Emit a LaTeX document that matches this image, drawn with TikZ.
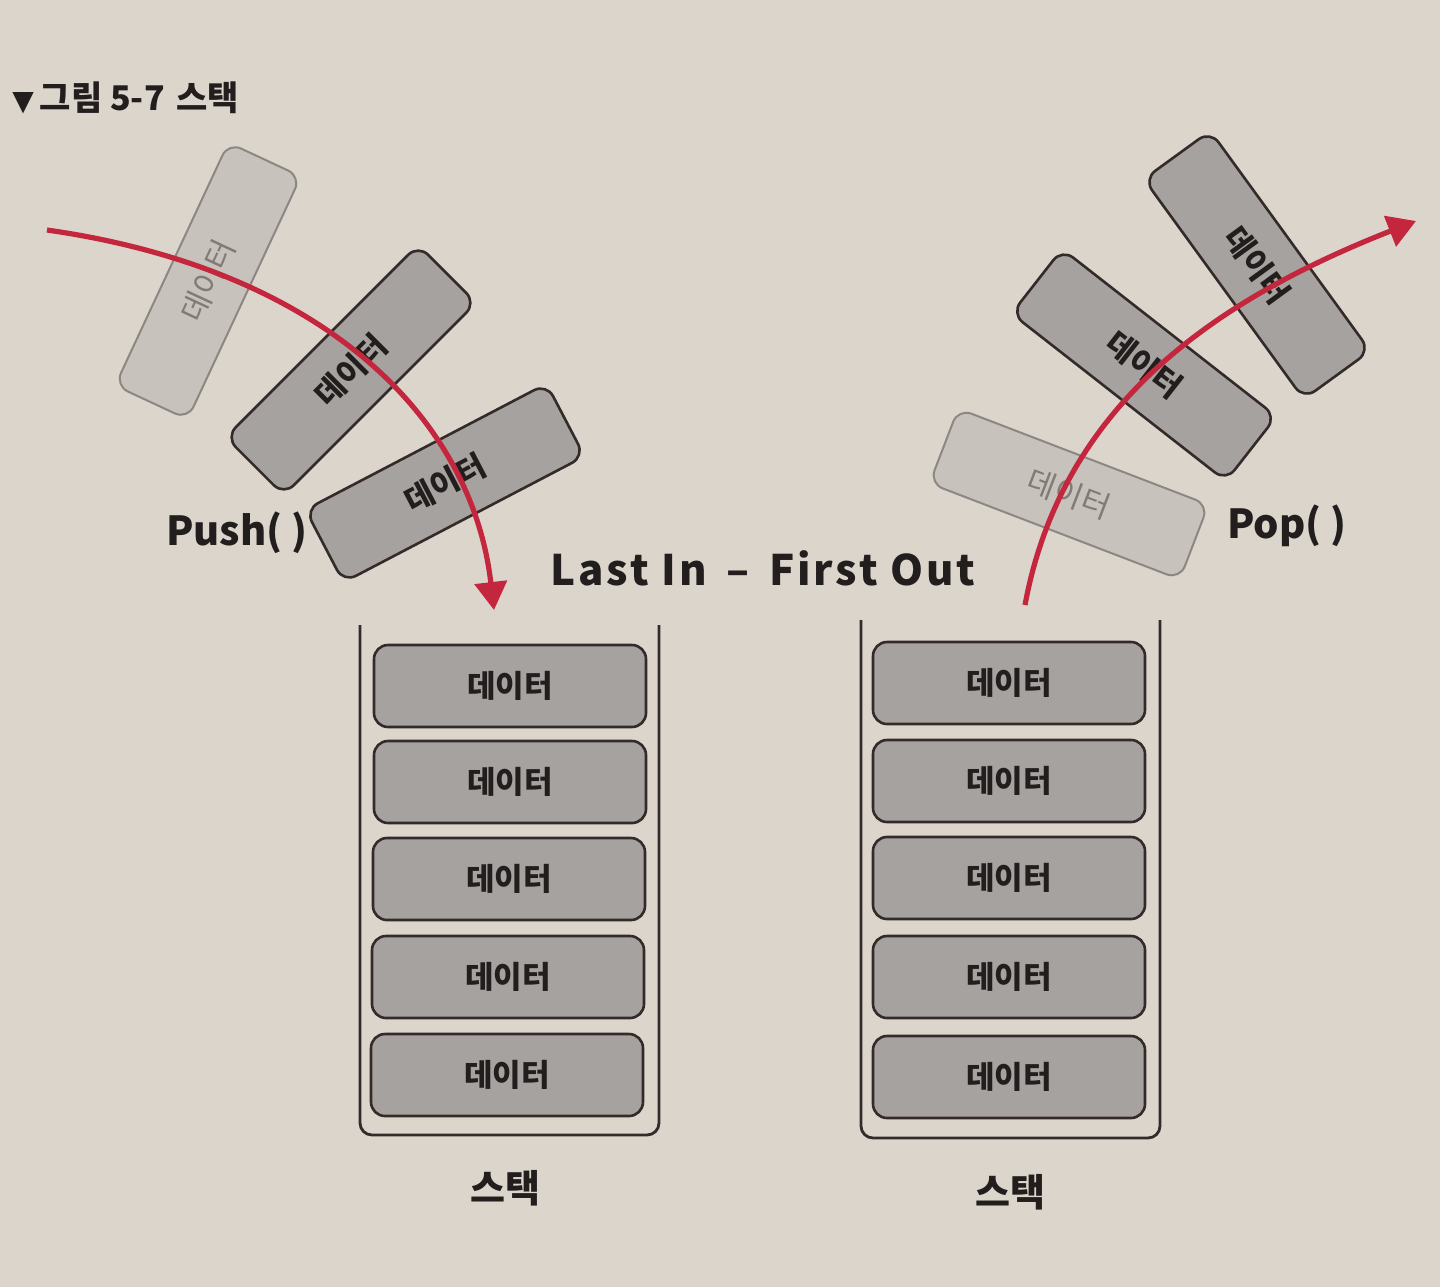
\documentclass[tikz,border=0pt]{standalone}
\usepackage{fontspec}
\setmainfont{Noto Sans CJK KR}
\newfontfamily\symfont{DejaVu Sans}
\usetikzlibrary{arrows.meta}
\definecolor{bgc}{RGB}{220,213,204}
\definecolor{boxfill}{RGB}{166,162,159}
\definecolor{boxline}{RGB}{52,42,42}
\definecolor{fadefill}{RGB}{199,194,187}
\definecolor{fadeline}{RGB}{140,135,130}
\definecolor{fadetext}{RGB}{128,123,118}
\definecolor{inkc}{RGB}{35,30,30}
\definecolor{redc}{RGB}{196,38,62}
\tikzset{
  databox/.style={draw=boxline, fill=boxfill, line width=1.3pt, rounded corners=7pt,
    minimum width=136pt, minimum height=41pt, inner sep=0pt, text=inkc,
    font=\fontsize{15.5}{18}\selectfont\bfseries},
  fadebox/.style={draw=fadeline, fill=fadefill, line width=1pt, rounded corners=7pt,
    minimum width=134pt, minimum height=40pt, inner sep=0pt, text=fadetext,
    font=\fontsize{15.5}{18}\selectfont},
  wall/.style={draw=boxline, line width=1.4pt, rounded corners=6pt},
  redarrow/.style={draw=redc, line width=2.6pt, -{Triangle[width=16pt,length=14pt]}},
  hand/.style={text=inkc, inner sep=0pt},
}
\begin{document}
\begin{tikzpicture}[x=0.5pt,y=-0.5pt]
\useasboundingbox (0,0) rectangle (1440,1287);
\fill[bgc] (0,0) rectangle (1440,1287);

% title
\node[hand, anchor=west, font=\fontsize{17}{20}\selectfont\bfseries] (title) at (12,98)
  {{\symfont\fontsize{14}{16}\selectfont ▼}\hspace{3pt}그림 5-7\hspace{6pt}스택};

% left floating boxes (Push)
\node[fadebox, rotate=65] (l1) at (208,281) {데이터};
\node[databox, rotate=45] (l2) at (351,370) {데이터};
\node[databox, rotate=27.6] (l3) at (445,483) {데이터};

% right floating boxes (Pop)
\node[databox, rotate=-54] (r1) at (1257,265) {데이터};
\node[databox, rotate=-38] (r2) at (1144,365) {데이터};
\node[fadebox, rotate=-21] (r3) at (1069,494) {데이터};

% labels
\node[hand, font=\fontsize{20}{24}\selectfont\bfseries] (push) at (237,533) {Push( )};
\node[hand, font=\fontsize{20}{24}\selectfont\bfseries] (pop) at (1287,526) {Pop( )};
\node[hand, font=\fontsize{21}{25}\selectfont\bfseries\addfontfeature{LetterSpace=7}] (lifo) at (763,568) {Last In \,–\, First Out};

% left stack
\draw[wall] (360,625) -- (360,1135) -- (659,1135) -- (659,625);
\node[databox] (s1a) at (510,686) {데이터};
\node[databox] (s1b) at (510,782) {데이터};
\node[databox] (s1c) at (509,879) {데이터};
\node[databox] (s1d) at (508,977) {데이터};
\node[databox] (s1e) at (507,1075) {데이터};
\node[hand, font=\fontsize{19}{22}\selectfont\bfseries] (stk1) at (505,1188) {스택};

% right stack
\draw[wall] (861,620) -- (861,1138) -- (1160,1138) -- (1160,620);
\node[databox] (s2a) at (1009,683) {데이터};
\node[databox] (s2b) at (1009,781) {데이터};
\node[databox] (s2c) at (1009,878) {데이터};
\node[databox] (s2d) at (1009,977) {데이터};
\node[databox] (s2e) at (1009,1077) {데이터};
\node[hand, font=\fontsize{19}{22}\selectfont\bfseries] (stk2) at (1010,1192) {스택};

% arrows
\coordinate (pushstart) at (47,230);
\coordinate (pushend) at (494,610);
\coordinate (popstart) at (1025,605);
\coordinate (popend) at (1416,221);
\draw[redarrow] (pushstart) .. controls (327,270) and (472,420) .. (pushend);
\draw[redarrow] (popstart) .. controls (1062,405) and (1215,300) .. (popend);
\end{tikzpicture}
\end{document}
